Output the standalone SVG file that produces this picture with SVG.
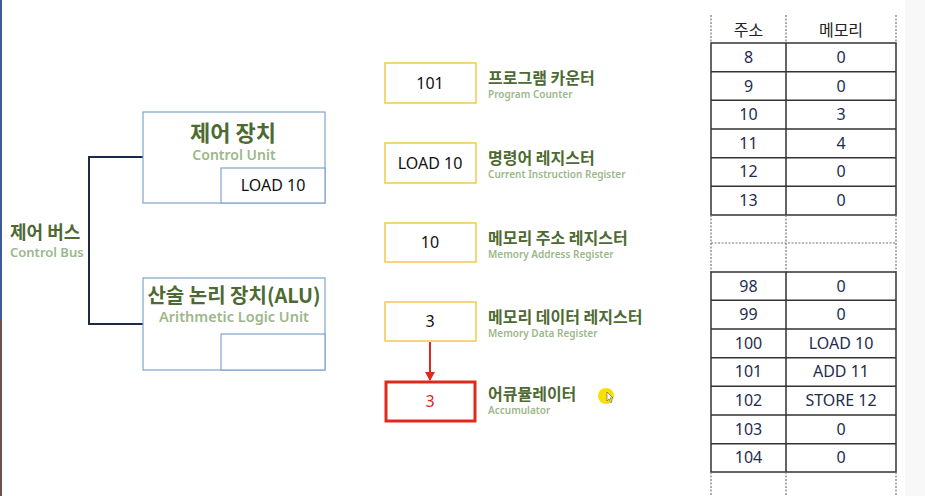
<svg xmlns="http://www.w3.org/2000/svg" width="925" height="496" viewBox="0 0 925 496">
<defs>
<style>
.t{font-family:"Noto Sans","Noto Sans CJK KR",sans-serif}
.kt{font-family:"Noto Sans CJK KR","Noto Sans",sans-serif;font-weight:700;fill:#4e6a33}
.en{font-family:"Noto Sans","Noto Sans CJK KR",sans-serif;font-weight:600;fill:#9cb78a}
.blk{stroke:#7fa2cf;stroke-width:1.2;fill:#fff}
.reg{stroke:#f2c94c;stroke-width:1.5;fill:#fff}
.val{font-family:"Noto Sans","Noto Sans CJK KR",sans-serif;font-size:16px;fill:#111;text-anchor:middle}
.tv{font-family:"Noto Sans","Noto Sans CJK KR",sans-serif;font-size:16px;fill:#1f2c4c;text-anchor:middle}
.grid{stroke:#333;stroke-width:1.5;fill:none}
.dash{stroke:#777;stroke-width:1.2;stroke-dasharray:2 1.5;fill:none}
</style>
<marker id="ah" markerWidth="10" markerHeight="10" refX="8" refY="5" orient="auto" markerUnits="userSpaceOnUse">
<path d="M0,0 L9,5 L0,10 Z" fill="#e0291b"/>
</marker>
</defs>
<rect width="925" height="496" fill="#fff"/>
<rect x="905" y="0" width="20" height="496" fill="#f8f8f8"/>
<rect x="0" y="0" width="2" height="320" fill="#3d5b9b"/>
<rect x="0" y="320" width="2" height="176" fill="#6e5050"/>

<g id="connectors">
<path d="M143,157 H89 V324 H143" fill="none" stroke="#1c2a48" stroke-width="2"/>
<line x1="430" y1="342" x2="430" y2="380" stroke="#e0291b" stroke-width="2" marker-end="url(#ah)"/>
</g>

<g id="control-bus">
<text class="kt" x="10" y="239" font-size="18">제어 버스</text>
<text class="en" x="10" y="257" font-size="13">Control Bus</text>
</g>

<g id="control-unit">
<rect class="blk" x="143" y="112" width="182" height="91"/>
<rect class="blk" x="221" y="168" width="104" height="35"/>
<text class="kt" x="233" y="141" font-size="22" text-anchor="middle">제어 장치</text>
<text class="en" x="234" y="160" font-size="14" text-anchor="middle">Control Unit</text>
<text class="val" x="273" y="191">LOAD 10</text>
</g>

<g id="alu">
<rect class="blk" x="143" y="278" width="182" height="92"/>
<rect class="blk" x="221" y="334" width="104" height="36"/>
<text class="kt" x="234" y="303" font-size="20" text-anchor="middle">산술 논리 장치(ALU)</text>
<text class="en" x="234" y="322" font-size="14.5" text-anchor="middle">Arithmetic Logic Unit</text>
</g>

<g id="program-counter">
<rect class="reg" x="385" y="63" width="91" height="40"/>
<text class="val" x="430" y="89">101</text>
<text class="kt" x="488" y="84" font-size="16">프로그램 카운터</text>
<text class="en" x="488" y="98" font-size="10">Program Counter</text>
</g>

<g id="instruction-register">
<rect class="reg" x="385" y="143" width="91" height="40"/>
<text class="val" x="430" y="169">LOAD 10</text>
<text class="kt" x="488" y="164" font-size="16">명령어 레지스터</text>
<text class="en" x="488" y="178" font-size="10">Current Instruction Register</text>
</g>

<g id="memory-address-register">
<rect class="reg" x="385" y="223" width="91" height="39"/>
<text class="val" x="430" y="248">10</text>
<text class="kt" x="488" y="244" font-size="16">메모리 주소 레지스터</text>
<text class="en" x="488" y="258" font-size="10">Memory Address Register</text>
</g>

<g id="memory-data-register">
<rect class="reg" x="385" y="302" width="91" height="39"/>
<text class="val" x="430" y="327">3</text>
<text class="kt" x="488" y="323" font-size="16">메모리 데이터 레지스터</text>
<text class="en" x="488" y="337" font-size="10">Memory Data Register</text>
</g>

<g id="accumulator">
<rect x="386" y="382" width="89" height="39" fill="#fff" stroke="#e0291b" stroke-width="3"/>
<text class="val" x="430" y="407" style="fill:#d42a1c">3</text>
<text class="kt" x="488" y="400" font-size="16">어큐뮬레이터</text>
<text class="en" x="488" y="414" font-size="10">Accumulator</text>
</g>

<g id="cursor">
<circle cx="606" cy="396" r="8" fill="#f7e000"/>
<path d="M607,392 L607,401 L609,399 L611,403 L612,402 L610,398 L613,398 Z" fill="#fff" stroke="#555" stroke-width="0.6"/>
</g>

<g id="memory-table">
<path class="dash" d="M711,15 V43 M786,15 V43 M896,15 V43"/>
<text class="t" x="748.5" y="36" font-size="16" text-anchor="middle" fill="#222">주소</text>
<text class="t" x="841" y="36" font-size="16" text-anchor="middle" fill="#222">메모리</text>
<rect class="grid" x="711" y="43" width="185" height="172"/>
<path class="grid" d="M786,43 V215 M711,71.7 H896 M711,100.3 H896 M711,129 H896 M711,157.7 H896 M711,186.3 H896"/>
<path class="dash" d="M711,215 V272 M786,215 V272 M896,215 V272 M711,243 H896"/>
<rect class="grid" x="711" y="272" width="185" height="200"/>
<path class="grid" d="M786,272 V472 M711,300.3 H896 M711,329 H896 M711,357.7 H896 M711,386.3 H896 M711,415 H896 M711,443.7 H896"/>
<path class="dash" d="M711,472 V496 M786,472 V496 M896,472 V496"/>
<g>
<text class="tv" x="748.5" y="63">8</text><text class="tv" x="841" y="63">0</text>
<text class="tv" x="748.5" y="91.5">9</text><text class="tv" x="841" y="91.5">0</text>
<text class="tv" x="748.5" y="120">10</text><text class="tv" x="841" y="120">3</text>
<text class="tv" x="748.5" y="148.5">11</text><text class="tv" x="841" y="148.5">4</text>
<text class="tv" x="748.5" y="177">12</text><text class="tv" x="841" y="177">0</text>
<text class="tv" x="748.5" y="206">13</text><text class="tv" x="841" y="206">0</text>
<text class="tv" x="748.5" y="291.5">98</text><text class="tv" x="841" y="291.5">0</text>
<text class="tv" x="748.5" y="320">99</text><text class="tv" x="841" y="320">0</text>
<text class="tv" x="748.5" y="348.5">100</text><text class="tv" x="841" y="348.5">LOAD 10</text>
<text class="tv" x="748.5" y="377">101</text><text class="tv" x="841" y="377">ADD 11</text>
<text class="tv" x="748.5" y="406">102</text><text class="tv" x="841" y="406">STORE 12</text>
<text class="tv" x="748.5" y="434.5">103</text><text class="tv" x="841" y="434.5">0</text>
<text class="tv" x="748.5" y="463">104</text><text class="tv" x="841" y="463">0</text>
</g>
</g>
</svg>
